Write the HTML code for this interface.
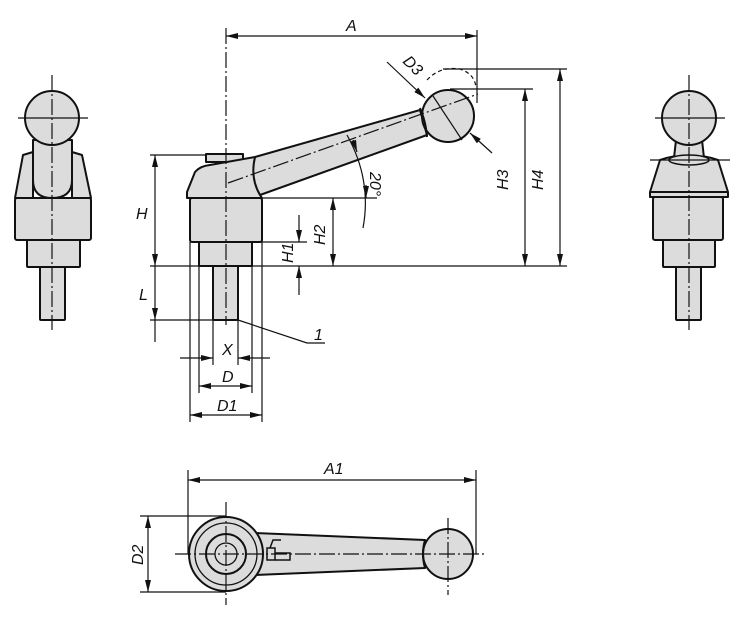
<!DOCTYPE html>
<html><head><meta charset="utf-8"><style>
html,body{margin:0;padding:0;background:#fff;}
svg{display:block;}
text{font-family:"Liberation Sans",sans-serif;font-style:italic;font-size:16px;fill:#111;}
</style></head><body>
<svg width="750" height="621" viewBox="0 0 750 621" xmlns="http://www.w3.org/2000/svg">
<defs>
<marker id="ar" viewBox="0 0 12 6" refX="12" refY="3" markerWidth="12" markerHeight="6" orient="auto-start-reverse" markerUnits="userSpaceOnUse">
<path d="M0,0 L12,3 L0,6 z" fill="#111"/></marker>
</defs>
<g fill="#dcdcdc" stroke="#111" stroke-width="2" stroke-linejoin="round">
<!-- LEFT VIEW -->
<rect x="40" y="267" width="25" height="53" rx="1"/>
<rect x="27" y="240" width="53" height="27" rx="1"/>
<rect x="15" y="198" width="76" height="42" rx="2"/>
<path d="M23,155 L33,152 L33,198 L15,198 Z"/>
<path d="M82,155 L72,152 L72,198 L91,198 Z"/>
<path d="M33,140 L72,140 L72,180 Q72,198 52,198 Q33,198 33,180 Z"/>
<circle cx="52" cy="118" r="27"/>
<!-- RIGHT VIEW -->
<rect x="676" y="267" width="25" height="53" rx="1"/>
<rect x="663" y="240" width="52" height="27" rx="1"/>
<rect x="653" y="197" width="70" height="43" rx="2"/>
<path d="M660,160 Q689,150 718,160 L728,192 L728,197 L650,197 L650,192 Z"/>
<line x1="650" y1="192" x2="728" y2="192"/>
<path d="M676,140 L702,140 L704,158 L674,158 Z"/>
<circle cx="689" cy="118" r="27"/>
<ellipse cx="689" cy="160" rx="20" ry="5" stroke-width="1.5"/>
<!-- MAIN VIEW -->
<rect x="213" y="266" width="25" height="54" rx="1"/>
<rect x="199" y="242" width="53" height="24"/>
<rect x="190" y="198" width="72" height="44" rx="2"/>
<rect x="206" y="154" width="37" height="8"/>
<path d="M195,172 Q200,166 210,165 L255,157 L420,110 L427,135 L260,195 L262,198 L187,198 L187,192 Z"/>
<path d="M255,157 Q250,178 260,195" fill="none"/>
<circle cx="448" cy="116" r="26"/>
<path d="M420,108 Q426,122 427,137" fill="none"/>
<!-- BOTTOM VIEW -->
<path d="M255,533 L425,540 L425,568 L255,575 Z"/>
<circle cx="226" cy="554" r="37"/>
<circle cx="226" cy="554" r="31" stroke-width="1.3"/>
<circle cx="226" cy="554" r="20"/>
<circle cx="226" cy="554" r="11" stroke-width="1.3"/>
<circle cx="448" cy="554" r="25"/>
<path d="M425,540 Q421,554 425,568" fill="none"/>
</g>
<g stroke="#111" stroke-width="1.2" fill="none">
<g stroke-dasharray="16,3,2,3">
<line x1="52" y1="75" x2="52" y2="330"/>
<line x1="689" y1="75" x2="689" y2="330"/>
<line x1="226" y1="28" x2="226" y2="325"/>
<line x1="228" y1="183" x2="478" y2="94"/>
<line x1="175" y1="554" x2="487" y2="554"/>
<line x1="226" y1="502" x2="226" y2="605"/>
<line x1="448" y1="518" x2="448" y2="595"/>
</g>
<line x1="18" y1="118" x2="88" y2="118"/>
<line x1="655" y1="118" x2="725" y2="118"/>
<line x1="650" y1="160" x2="730" y2="160"/>
<line x1="433" y1="96" x2="462" y2="140"/>
<path d="M427,80 Q440,66 460,69 Q475,74 476,88" stroke-dasharray="4,3"/>
<line x1="477" y1="30" x2="477" y2="103"/>
<line x1="226" y1="36" x2="477" y2="36" marker-start="url(#ar)" marker-end="url(#ar)"/>
<line x1="443" y1="69" x2="567" y2="69"/>
<line x1="450" y1="89" x2="533" y2="89"/>
<line x1="150" y1="266" x2="567" y2="266"/>
<line x1="525" y1="89" x2="525" y2="266" marker-start="url(#ar)" marker-end="url(#ar)"/>
<line x1="560" y1="69" x2="560" y2="266" marker-start="url(#ar)" marker-end="url(#ar)"/>
<line x1="262" y1="198" x2="377" y2="198"/>
<line x1="333" y1="198" x2="333" y2="266" marker-start="url(#ar)" marker-end="url(#ar)"/>
<line x1="252" y1="242" x2="307" y2="242"/>
<line x1="299" y1="215" x2="299" y2="242" marker-end="url(#ar)"/>
<line x1="299" y1="295" x2="299" y2="266" marker-end="url(#ar)"/>
<line x1="150" y1="155" x2="206" y2="155"/>
<line x1="150" y1="320" x2="213" y2="320"/>
<line x1="155" y1="155" x2="155" y2="266" marker-start="url(#ar)" marker-end="url(#ar)"/>
<line x1="155" y1="266" x2="155" y2="320" marker-end="url(#ar)"/>
<line x1="155" y1="320" x2="155" y2="342"/>
<path d="M347,135 Q372,180 363,228"/>
<line x1="353" y1="140" x2="357" y2="152" marker-end="url(#ar)"/>
<line x1="366" y1="185" x2="366" y2="198" marker-end="url(#ar)"/>
<line x1="387" y1="62" x2="425" y2="98" marker-end="url(#ar)"/>
<line x1="492" y1="153" x2="470" y2="133" marker-end="url(#ar)"/>
<polyline points="238,320 307,343 325,343"/>
<line x1="190" y1="242" x2="190" y2="422"/>
<line x1="199" y1="266" x2="199" y2="393"/>
<line x1="213" y1="320" x2="213" y2="365"/>
<line x1="238" y1="320" x2="238" y2="365"/>
<line x1="252" y1="266" x2="252" y2="393"/>
<line x1="262" y1="242" x2="262" y2="422"/>
<line x1="180" y1="358" x2="213" y2="358" marker-end="url(#ar)"/>
<line x1="270" y1="358" x2="238" y2="358" marker-end="url(#ar)"/>
<line x1="199" y1="386" x2="252" y2="386" marker-start="url(#ar)" marker-end="url(#ar)"/>
<line x1="190" y1="415" x2="262" y2="415" marker-start="url(#ar)" marker-end="url(#ar)"/>
<line x1="188" y1="470" x2="188" y2="554"/>
<line x1="476" y1="470" x2="476" y2="554"/>
<line x1="188" y1="480" x2="476" y2="480" marker-start="url(#ar)" marker-end="url(#ar)"/>
<line x1="140" y1="516" x2="226" y2="516"/>
<line x1="140" y1="592" x2="226" y2="592"/>
<line x1="148" y1="516" x2="148" y2="592" marker-start="url(#ar)" marker-end="url(#ar)"/>
<path d="M267,548 L275,548 L275,560 L267,560 Z M270,548 L273,540 L281,540" stroke-width="1.5"/>
<path d="M275,553 L290,553 L290,560 L275,560" stroke-width="1.5"/>
</g>
<text x="346" y="31">A</text>
<text x="324" y="474">A1</text>
<text x="136" y="219">H</text>
<text x="139" y="300">L</text>
<text x="222" y="355">X</text>
<text x="222" y="382">D</text>
<text x="217" y="411">D1</text>
<text x="314" y="340">1</text>
<text x="0" y="0" transform="translate(543,190) rotate(-90)">H4</text>
<text x="0" y="0" transform="translate(508,190) rotate(-90)">H3</text>
<text x="0" y="0" transform="translate(325,245) rotate(-90)">H2</text>
<text x="0" y="0" transform="translate(293,263) rotate(-90)">H1</text>
<text x="0" y="0" transform="translate(370,172) rotate(90)">20°</text>
<text x="0" y="0" transform="translate(402,62) rotate(45)">D3</text>
<text x="0" y="0" transform="translate(143,565) rotate(-90)">D2</text>
</svg>
</body></html>
